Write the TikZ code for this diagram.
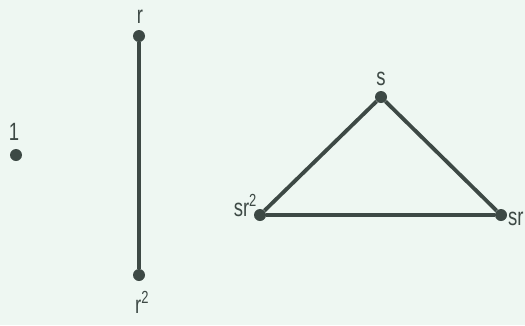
\documentclass[tikz,border=0pt]{standalone}
\usepackage{fontspec}
\setmainfont{Liberation Sans}
\definecolor{ink}{HTML}{3D4945}
\definecolor{bg}{HTML}{EEF7F2}
\newcommand{\narrowtxt}[1]{\scalebox{0.74}[1]{#1}}
\begin{document}
\begin{tikzpicture}[x=1pt,y=-1pt,
  vdot/.style={circle,fill=ink,inner sep=0pt,minimum size=12pt},
  edge/.style={draw=ink,line width=3.8pt},
  lab/.style={text=ink,inner sep=0pt,font=\fontsize{25}{28}\selectfont}]
\useasboundingbox (0,0) rectangle (525,325);
\fill[bg] (0,0) rectangle (525,325);
\node[vdot] (one) at (16,155) {};
\node[vdot] (r) at (139,36) {};
\node[vdot] (r2) at (139,275) {};
\node[vdot] (s) at (381,97) {};
\node[vdot] (sr2) at (260,215) {};
\node[vdot] (sr) at (501,215) {};
\draw[edge] (r) -- (r2);
\draw[edge] (sr2) -- (s) -- (sr) -- (sr2);
\node[lab] (lone) at (14,132) {\narrowtxt{1}};
\node[lab] (lr) at (140,17) {\narrowtxt{r}};
\node[lab,anchor=base] (lr2) at (142,313) {\narrowtxt{r\textsuperscript{2}}};
\node[lab] (ls) at (381,79) {\narrowtxt{s}};
\node[lab,anchor=base east] (lsr2) at (257,216) {\narrowtxt{sr\textsuperscript{2}}};
\node[lab,anchor=base west] (lsr) at (508,225) {\narrowtxt{sr}};
\end{tikzpicture}
\end{document}
